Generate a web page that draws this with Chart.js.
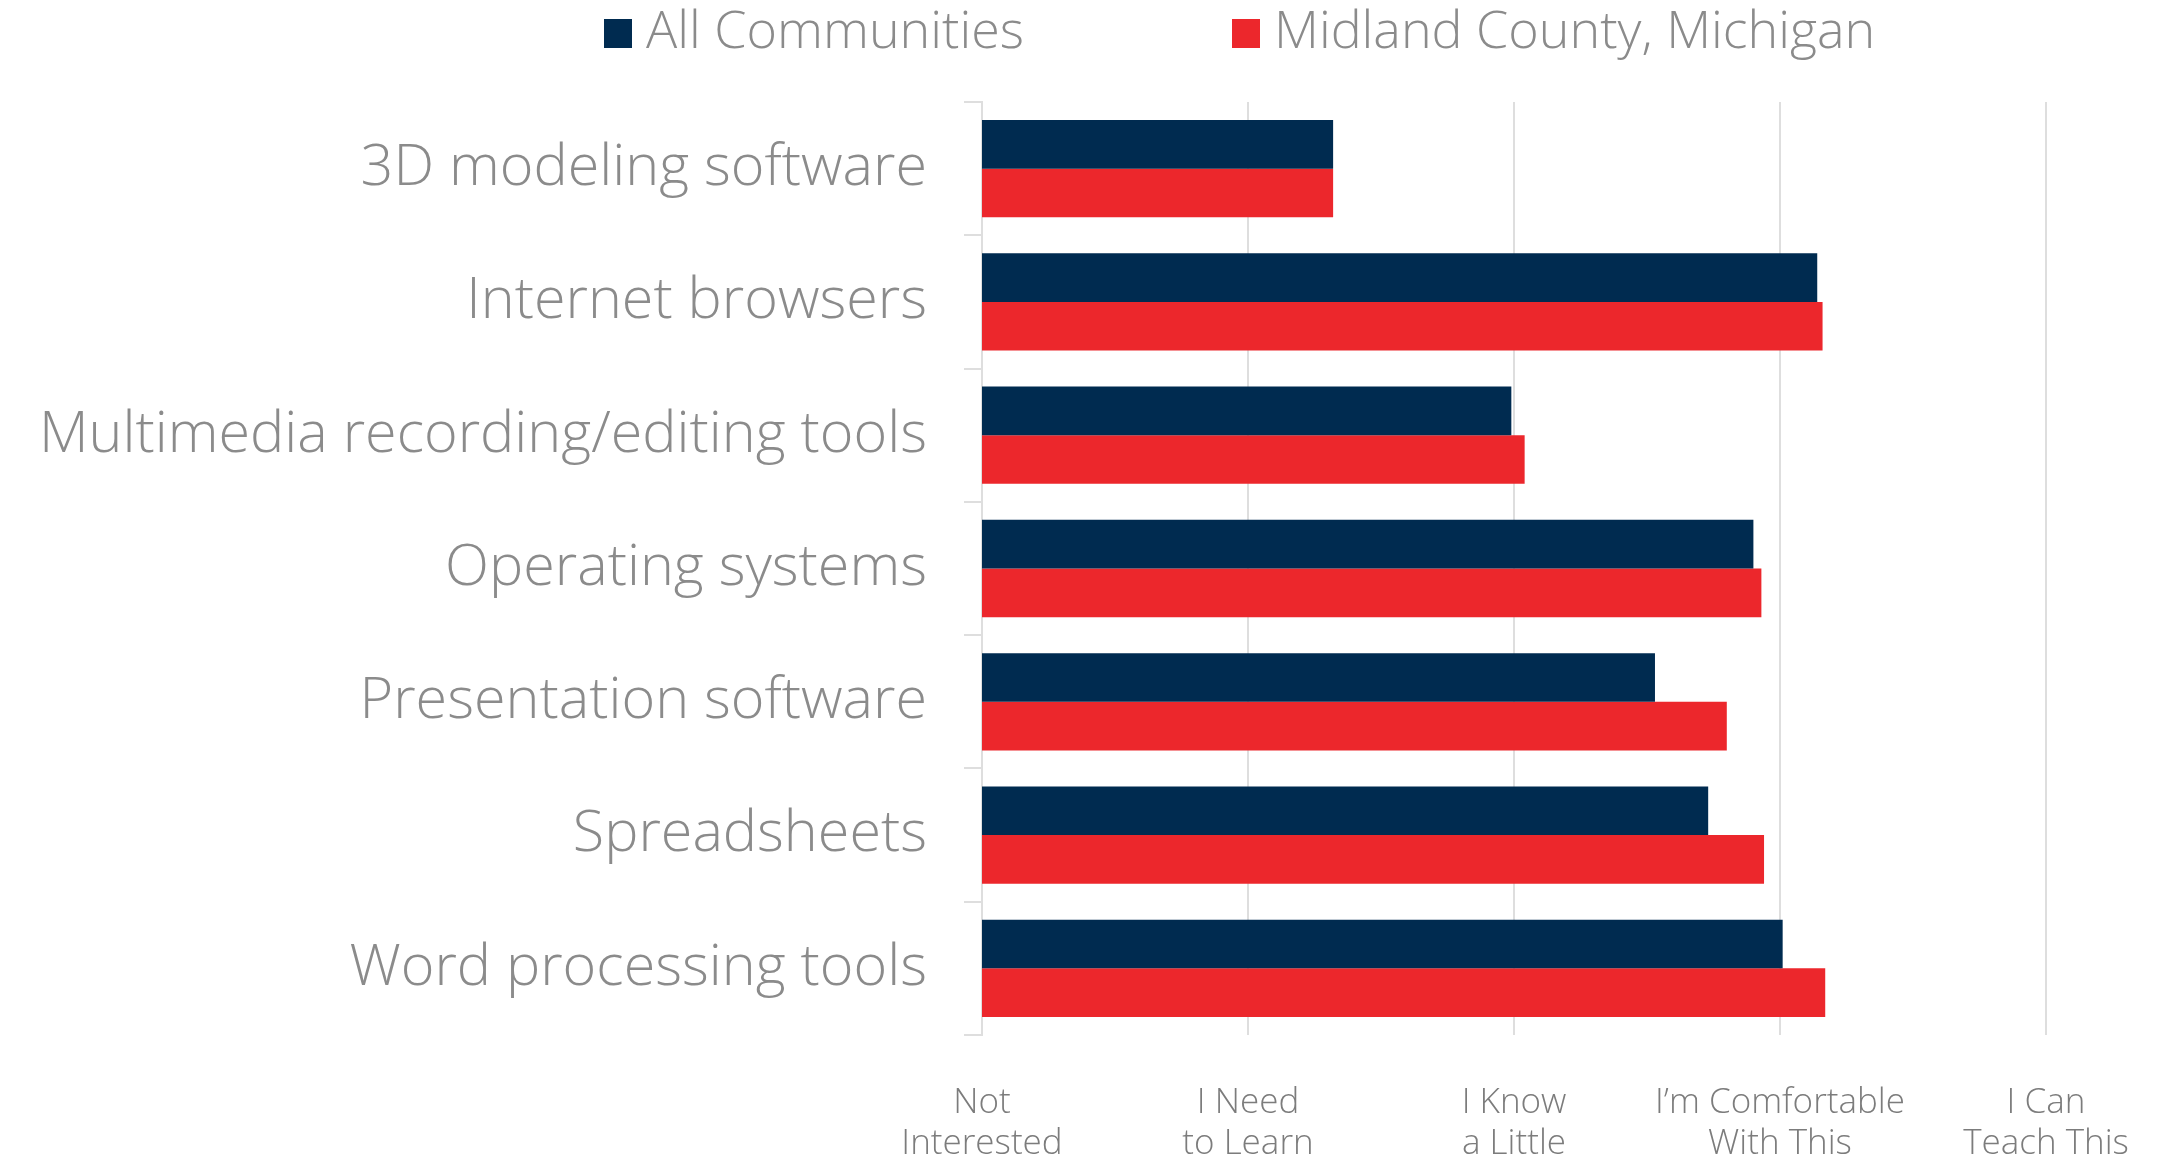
<!DOCTYPE html>
<html lang="en">
<head>
    <meta charset="UTF-8">
    <meta name="viewport" content="width=device-width, initial-scale=1.0">
    <title>Digital Tools Comfort - Midland County, Michigan</title>
    <script src="https://cdn.jsdelivr.net/npm/chart.js"></script>
    <style>
        html, body { margin: 0; padding: 0; background: #ffffff; }
        .chart-container { position: relative; width: 2164px; height: 1157px; }
    </style>
</head>
<body>
    <div class="chart-container">
        <canvas id="skillsChart"></canvas>
    </div>

    <script>
        const categories = [
            '3D modeling software',
            'Internet browsers',
            'Multimedia recording/editing tools',
            'Operating systems',
            'Presentation software',
            'Spreadsheets',
            'Word processing tools'
        ];
        const seriesNames = ['All Communities', 'Midland County, Michigan'];
        const allCommunities = [2.32, 4.14, 2.99, 3.90, 3.53, 3.73, 4.01];
        const midlandCounty = [2.32, 4.16, 3.04, 3.93, 3.80, 3.94, 4.17];
        // 1..5 answer scale shown under the bars
        const comfortLevels = [
            ['Not', 'Interested'],
            ['I Need', 'to Learn'],
            ['I Know', 'a Little'],
            ['I\u2019m Comfortable', 'With This'],
            ['I Can', 'Teach This']
        ];

        const NAVY = '#002b50';
        const RED = '#ec272c';
        const TEXT_GREY = '#8b8b8b';
        const GRID_GREY = '#dedede';
        const FONT = '"Open Sans"';

        // legend row across the top, drawn from the dataset labels/colours
        const topLegend = {
            id: 'topLegend',
            afterDraw(chart) {
                const ctx = chart.ctx;
                const starts = [604, 1232];
                ctx.save();
                ctx.font = '300 52px ' + FONT;
                ctx.textBaseline = 'middle';
                ctx.textAlign = 'left';
                chart.data.datasets.forEach((ds, i) => {
                    ctx.fillStyle = ds.backgroundColor;
                    ctx.fillRect(starts[i], 19, 28, 29);
                    ctx.fillStyle = TEXT_GREY;
                    ctx.fillText(ds.label, starts[i] + 42, 33);
                });
                ctx.restore();
            }
        };

        const ctx = document.getElementById('skillsChart').getContext('2d');
        new Chart(ctx, {
            type: 'bar',
            data: {
                labels: categories,
                datasets: [
                    {
                        label: seriesNames[0],
                        data: allCommunities,
                        backgroundColor: NAVY,
                        borderWidth: 0
                    },
                    {
                        label: seriesNames[1],
                        data: midlandCounty,
                        backgroundColor: RED,
                        borderWidth: 0
                    }
                ]
            },
            options: {
                indexAxis: 'y',
                responsive: true,
                maintainAspectRatio: false,
                animation: false,
                categoryPercentage: 0.73,
                barPercentage: 1.0,
                layout: {
                    padding: { top: 102, right: 118, left: 0, bottom: 0 }
                },
                scales: {
                    x: {
                        min: 1,
                        max: 5,
                        ticks: {
                            stepSize: 1,
                            padding: 48,
                            color: '#7c7c7c',
                            font: { family: FONT, size: 35, weight: '300', lineHeight: '41px' },
                            maxRotation: 0,
                            callback: (value) => comfortLevels[value - 1]
                        },
                        grid: {
                            color: GRID_GREY,
                            lineWidth: 2,
                            drawTicks: false
                        },
                        border: { display: false },
                        afterFit: (scale) => {
                            scale.height = 122;
                            // labels may hang past the edge; keep plot width fixed
                            scale.paddingLeft = 0;
                            scale.paddingRight = 0;
                        }
                    },
                    y: {
                        ticks: {
                            padding: 37,
                            color: TEXT_GREY,
                            font: { family: FONT, size: 57.5, weight: '300' }
                        },
                        grid: {
                            drawOnChartArea: false,
                            drawTicks: true,
                            tickLength: 18,
                            color: GRID_GREY,
                            lineWidth: 2
                        },
                        border: { display: true, color: GRID_GREY, width: 2 },
                        afterFit: (scale) => { scale.width = 982; }
                    }
                },
                plugins: {
                    legend: { display: false },
                    tooltip: { enabled: false }
                }
            },
            plugins: [topLegend]
        });
    </script>
</body>
</html>
